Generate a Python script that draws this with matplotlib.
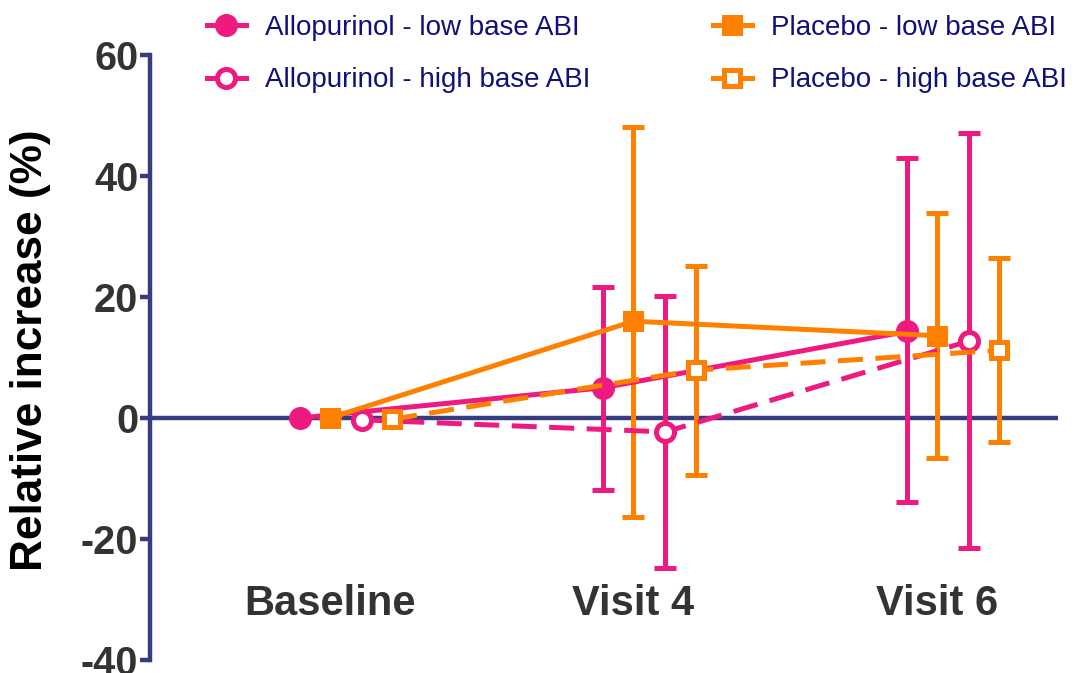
import numpy as np
import matplotlib.pyplot as plt
from matplotlib.lines import Line2D

plt.rcParams['font.family'] = ['Liberation Sans', 'DejaVu Sans']
plt.rcParams['axes.unicode_minus'] = False

visits = ["Baseline", "Visit 4", "Visit 6"]

allo_low = [0.0, 5.0, 14.3]
allo_low_lo = [0.0, 16.9, 28.2]
allo_low_hi = [0.0, 16.6, 28.7]

plac_low = [0.0, 16.0, 13.6]
plac_low_lo = [0.0, 32.4, 20.2]
plac_low_hi = [0.0, 32.1, 20.3]

allo_high = [-0.3, -2.3, 12.7]
allo_high_lo = [0.0, 22.5, 34.2]
allo_high_hi = [0.0, 22.5, 34.4]

plac_high = [-0.2, 7.9, 11.2]
plac_high_lo = [0.0, 17.3, 15.2]
plac_high_hi = [0.0, 17.2, 15.2]

pink = '#EE1A80'
orange = '#FF8000'
navy = '#363C80'

fig = plt.figure(figsize=(10.78, 6.73), dpi=100)
ax = fig.add_axes([150 / 1078, 1 - 660 / 673, 908 / 1078, 605 / 673])

x = np.arange(len(visits))
series = [
    ("Allopurinol - low base ABI", allo_low, allo_low_lo, allo_low_hi, pink, 'o', '-', True, -0.1),
    ("Allopurinol - high base ABI", allo_high, allo_high_lo, allo_high_hi, pink, 'o', '--', False, 0.105),
    ("Placebo - low base ABI", plac_low, plac_low_lo, plac_low_hi, orange, 's', '-', True, 0.0),
    ("Placebo - high base ABI", plac_high, plac_high_lo, plac_high_hi, orange, 's', '--', False, 0.205),
]

ax.axhline(0, color=navy, lw=3.2, zorder=1)

handles = []
for name, y, lo, hi, c, m, ls, filled, off in series:
    ms = 13 if m == 'o' else 12
    fc = c if filled else 'white'
    dash = (5, 2.5) if ls == '--' else (None, None)
    ax.errorbar(x + off, y, yerr=[lo, hi], color=c, lw=3.6, ls=ls,
                marker=m, ms=ms, mfc=fc, mec=c, mew=3.6,
                elinewidth=3.6, capsize=8, capthick=3.6,
                dashes=dash, zorder=3)
    handles.append(Line2D([], [], color=c, lw=3.6, ls='-', marker=m,
                          ms=ms, mfc=fc, mec=c, mew=3.6))

names = [s[0] for s in series]
leg = fig.legend(handles, names, loc='upper left',
                 bbox_to_anchor=(207 / 1078, 1 - 15 / 673), ncol=2, frameon=False,
                 fontsize=20, handlelength=1.4, handletextpad=0.7,
                 columnspacing=4.4, labelspacing=0.95, borderaxespad=0,
                 borderpad=0)
for t in leg.get_texts():
    t.set_color('#10107A')

ax.set_xlim(-0.593, 2.399)
ax.set_ylim(-40, 60)
ax.set_yticks([-40, -20, 0, 20, 40, 60])

for s in ['top', 'right']:
    ax.spines[s].set_visible(False)
ax.spines['left'].set_color(navy)
ax.spines['left'].set_linewidth(3.2)
ax.spines['bottom'].set_visible(False)
ax.spines['bottom'].set_position(('data', -27))

ax.set_xticks(x)
ax.set_xticklabels(visits)
ax.tick_params(axis='x', length=0, pad=2, labelsize=30, labelcolor='#333333')
ax.tick_params(axis='y', length=7, width=3.2, color=navy, labelsize=28.5,
               labelcolor='#333333', pad=1.5)
for lab in ax.get_xticklabels() + ax.get_yticklabels():
    lab.set_fontweight('bold')

ax.set_ylabel("Relative increase (%)", fontsize=31.8, fontweight='bold',
              color='black')
ax.yaxis.set_label_coords(-0.109, 0.512)

fig.savefig('out.png', dpi=100)
